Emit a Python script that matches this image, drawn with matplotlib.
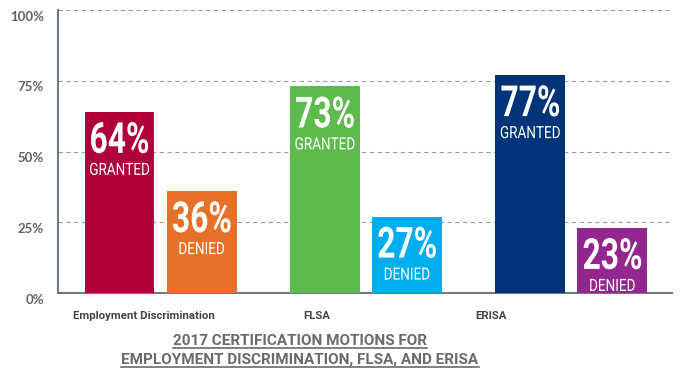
import numpy as np
import matplotlib.pyplot as plt
from matplotlib.lines import Line2D
from matplotlib.textpath import TextPath
from matplotlib.patches import PathPatch
from matplotlib.font_manager import FontProperties
from matplotlib.transforms import Affine2D, ScaledTranslation

# data
categories = ['Employment Discrimination', 'FLSA', 'ERISA']
granted = [64, 73, 77]
denied = [36, 27, 23]
granted_colors = ['#B0003A', '#5DBB4E', '#003478']
denied_colors = ['#E8712A', '#00AEEF', '#93278F']
yticks = [0, 25, 50, 75, 100]
title_lines = ['2017 CERTIFICATION MOTIONS FOR',
               'EMPLOYMENT DISCRIMINATION, FLSA, AND ERISA']

gray = '#5f6368'
bold_fp = FontProperties(family='Roboto', weight='bold')
thin_fp = FontProperties(family='Roboto', weight='normal')


# condensed text drawn as a path (no narrow font installed)
def narrow_text(ax, s, x, y, fp, cap_px, ref_s, ref_w, top_px):
    # cap height from a reference glyph, width scale from a reference string
    hp = TextPath((0, 0), 'H', size=1, prop=fp)
    cap = hp.get_extents().height
    sy = cap_px / cap
    rp = TextPath((0, 0), ref_s, size=1, prop=fp)
    sx = ref_w / rp.get_extents().width
    p = TextPath((0, 0), s, size=1, prop=fp)
    e = p.get_extents()
    tr = (Affine2D().translate(-(e.x0 + e.x1) / 2, -cap).scale(sx, sy)
          .translate(0, -top_px)
          + ScaledTranslation(x, y, ax.transData))
    ax.add_patch(PathPatch(p, transform=tr, facecolor='white', edgecolor='none',
                           zorder=4))


fig = plt.figure(figsize=(6.92, 3.79), dpi=100)
ax = fig.add_axes([0.0838, 0.2269, 0.8872, 0.7467])

x = np.arange(len(categories))
w = 0.34
off = 0.2
ax.bar(x - off, granted, w, color=granted_colors, zorder=3)
ax.bar(x + off, denied, w, color=denied_colors, zorder=3)

for i in range(len(categories)):
    for xi, v, word in [(x[i] - off, granted[i], 'GRANTED'), (x[i] + off, denied[i], 'DENIED')]:
        narrow_text(ax, f'{v}%', xi, v, bold_fp, 30.5, '64%', 57, 10.5)
        narrow_text(ax, word, xi, v, thin_fp, 12, 'GRANTED', 59, 51)

ax.set_xlim(-0.5, 2.49)
ax.set_ylim(0, 100)
ax.set_yticks(yticks)
ax.set_yticklabels([f'{t}%' for t in yticks], fontsize=9.5, fontweight='bold',
                   color=gray, family='Lato')
ax.tick_params(axis='y', length=0, pad=10)
ax.tick_params(axis='x', length=0, pad=13)
for lab in ax.get_yticklabels():
    lab.set_transform(lab.get_transform() + ScaledTranslation(0, -4 / 72, fig.dpi_scale_trans))

# category labels sit a bit left of the group centres
label_shift = [-0.08, -0.24, -0.39]
ax.set_xticks(x + np.array(label_shift))
ax.set_xticklabels(categories, fontsize=8.2, fontweight='bold', color='#444444',
                   family='Roboto')

ax.yaxis.grid(True, linestyle=(0, (4, 3)), color='#9a9a9a', linewidth=0.8, zorder=0)
for s in ['top', 'right']:
    ax.spines[s].set_visible(False)
for s in ['left', 'bottom']:
    ax.spines[s].set_color('#707880')
    ax.spines[s].set_linewidth(1.5)
ax.spines['left'].set_zorder(5)

# title with underlines
t1 = fig.text(0.4335, 0.09, title_lines[0], ha='center', va='baseline',
              fontsize=11, fontweight='bold', color='#6b6b6b', family='Roboto')
t2 = fig.text(0.4335, 0.04, title_lines[1], ha='center', va='baseline',
              fontsize=11, fontweight='bold', color='#6b6b6b', family='Roboto')
fig.canvas.draw()
r = fig.canvas.get_renderer()
for t in [t1, t2]:
    bb = t.get_window_extent(r).transformed(fig.transFigure.inverted())
    y0 = t.get_position()[1] - 0.008
    fig.add_artist(Line2D([bb.x0, bb.x1], [y0, y0], color='#6b6b6b', linewidth=1.2,
                          transform=fig.transFigure))

fig.savefig('out.png', dpi=100, facecolor='white')
